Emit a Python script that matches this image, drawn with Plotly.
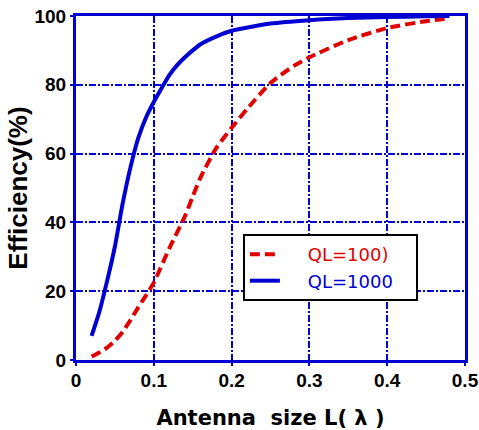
import plotly.graph_objects as go

# QL=1000 (blue, solid)
x_blue = [0.02, 0.03, 0.04, 0.05, 0.06, 0.07, 0.08, 0.09, 0.10, 0.11, 0.12, 0.13, 0.14,
          0.15, 0.16, 0.18, 0.20, 0.25, 0.30, 0.35, 0.40, 0.45, 0.48]
y_blue = [7.0, 14.0, 23.0, 33.0, 45.5, 56.0, 64.5, 70.5, 75.0, 79.0, 82.8, 85.7, 88.0,
          90.0, 91.8, 94.0, 95.7, 97.8, 98.8, 99.4, 99.7, 99.9, 100.0]

# QL=100) (red, dashed)
x_red = [0.02, 0.03, 0.04, 0.05, 0.06, 0.07, 0.08, 0.09, 0.10, 0.12, 0.14, 0.15, 0.16,
         0.18, 0.20, 0.22, 0.25, 0.28, 0.30, 0.35, 0.40, 0.45, 0.48]
y_red = [1.0, 2.2, 3.6, 5.6, 8.2, 11.6, 15.3, 18.8, 22.5, 32.5, 41.8, 47.5, 53.0,
         61.5, 67.5, 73.0, 80.5, 85.5, 88.0, 93.0, 96.5, 98.5, 99.3]

x_ticks = [0, 0.1, 0.2, 0.3, 0.4, 0.5]
x_tick_labels = ["0", "0.1", "0.2", "0.3", "0.4", "0.5"]
y_ticks = [0, 20, 40, 60, 80, 100]
y_tick_labels = ["0", "20", "40", "60", "80", "100"]

BLUE = "rgb(0,0,210)"
RED = "rgb(225,0,0)"
NB = "\u00a0"

fig = go.Figure()
fig.add_trace(go.Scatter(x=x_red, y=y_red, mode="lines",
                         name=NB * 4 + "<span style='color:rgb(225,0,0)'>QL=100)</span>" + NB * 3,
                         line=dict(color=RED, width=4, dash="10px,5px", shape="spline", smoothing=0.6)))
fig.add_trace(go.Scatter(x=x_blue, y=y_blue, mode="lines",
                         name=NB * 4 + "<span style='color:rgb(0,0,210)'>QL=1000</span>" + NB * 3,
                         line=dict(color=BLUE, width=4, shape="spline", smoothing=0.6)))

axis_common = dict(
    showline=True, linecolor=BLUE, linewidth=3, mirror=True,
    showgrid=True, gridcolor=BLUE, gridwidth=2, griddash="7px,2px,2px,2px",
    zeroline=False, ticks="outside", ticklen=3, tickcolor=BLUE, tickwidth=2,
    automargin=False,
    tickfont=dict(family="Liberation Sans, Arial", size=19, color="black", weight="bold"),
)

fig.update_xaxes(range=[0, 0.5], tickvals=x_ticks, ticktext=x_tick_labels,
                 ticklabelstandoff=-2,
                 title=dict(text="Antenna" + NB * 2 + "size L(" + NB + "λ" + NB + ")", standoff=22,
                            font=dict(family="DejaVu Sans", size=21, color="black", weight="bold")),
                 **axis_common)
fig.update_yaxes(range=[0, 100], tickvals=y_ticks, ticktext=y_tick_labels,
                 title=dict(text="Efficiency(%)", standoff=0,
                            font=dict(family="Liberation Sans, Arial", size=26, color="black", weight="bold")),
                 **axis_common)

fig.update_layout(
    width=479, height=430,
    margin=dict(l=76, r=14, t=16, b=70),
    plot_bgcolor="white", paper_bgcolor="white",
    showlegend=True,
    legend=dict(x=0.429, y=0.366, xanchor="left", yanchor="top",
                bgcolor="white", bordercolor="black", borderwidth=2,
                font=dict(family="DejaVu Sans", size=18),
                tracegroupgap=4),
)

fig.write_html("out.html")
